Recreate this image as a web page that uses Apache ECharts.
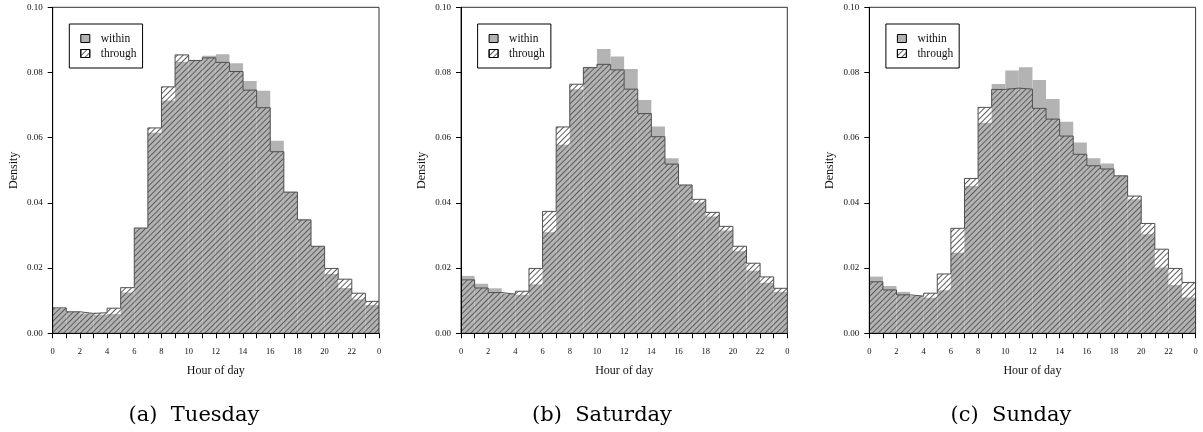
<!DOCTYPE html>
<html>
<head>
<meta charset="utf-8">
<script src="https://cdn.jsdelivr.net/npm/echarts@6/dist/echarts.min.js"></script>
<style>html,body{margin:0;padding:0;background:#fff}#c{width:1203px;height:432px}</style>
</head>
<body>
<div id="c"></div>
<script>
const hours = Array.from({length: 24}, (_, i) => String(i));
const yTicks = [0, 0.02, 0.04, 0.06, 0.08, 0.10];
const captions = ['(a)  Tuesday', '(b)  Saturday', '(c)  Sunday'];

const tueWithin  = [0.0076,0.0066,0.0061,0.0057,0.0059,0.0125,0.0323,0.0615,0.0714,0.0833,0.0837,0.0851,0.0856,0.0828,0.0774,0.0744,0.0591,0.0434,0.0348,0.0267,0.0182,0.0139,0.0104,0.0087];
const tueThrough = [0.0078,0.0066,0.0061,0.0063,0.0077,0.0140,0.0323,0.0630,0.0756,0.0854,0.0837,0.0845,0.0831,0.0803,0.0746,0.0692,0.0557,0.0433,0.0348,0.0267,0.0199,0.0166,0.0123,0.0098];

const satWithin  = [0.0176,0.0152,0.0138,0.0122,0.0118,0.0150,0.0310,0.0578,0.0749,0.0817,0.0872,0.0849,0.0811,0.0716,0.0634,0.0537,0.0455,0.0401,0.0358,0.0315,0.0252,0.0192,0.0155,0.0127];
const satThrough = [0.0164,0.0139,0.0125,0.0120,0.0129,0.0199,0.0374,0.0633,0.0764,0.0815,0.0825,0.0808,0.0749,0.0674,0.0603,0.0519,0.0455,0.0411,0.0371,0.0328,0.0267,0.0215,0.0173,0.0138];

const sunWithin  = [0.0174,0.0145,0.0127,0.0115,0.0109,0.0132,0.0247,0.0452,0.0646,0.0765,0.0806,0.0816,0.0777,0.0719,0.0649,0.0585,0.0537,0.0521,0.0483,0.0411,0.0304,0.0202,0.0148,0.0110];
const sunThrough = [0.0158,0.0133,0.0118,0.0114,0.0123,0.0182,0.0322,0.0475,0.0693,0.0748,0.0752,0.0749,0.0690,0.0657,0.0605,0.0549,0.0514,0.0504,0.0483,0.0421,0.0337,0.0258,0.0199,0.0156];

const panels = [
  {within: tueWithin, through: tueThrough, left: 52.7, cap: 194},
  {within: satWithin, through: satThrough, left: 461, cap: 602},
  {within: sunWithin, through: sunThrough, left: 869.3, cap: 1011}
];

const SERIF = 'Liberation Serif';
const GRID_TOP = 7.3, GRID_H = 326, GRID_W = 326.3;
const hatch = {
  symbol: 'rect', symbolSize: 1, color: '#5c5c5c',
  dashArrayX: [1, 0], dashArrayY: [1, 3], rotation: -Math.PI / 4
};

const grid = [], xAxis = [], yAxis = [], series = [], legend = [], graphic = [];
panels.forEach((p, i) => {
  grid.push({left: p.left, top: GRID_TOP, width: GRID_W, height: GRID_H, show: true,
    borderColor: '#333', borderWidth: 1, backgroundColor: 'transparent', z: 10});
  xAxis.push({type: 'category', gridIndex: i, data: hours, show: false, boundaryGap: true});
  xAxis.push({type: 'value', gridIndex: i, min: 0, max: 24, interval: 1, position: 'bottom', z: 12,
    name: 'Hour of day', nameLocation: 'middle', nameGap: 32,
    nameTextStyle: {fontFamily: SERIF, fontSize: 12, color: '#111'},
    axisLine: {show: true, lineStyle: {color: '#000', width: 1}},
    axisTick: {show: true, length: 5, inside: false, lineStyle: {color: '#000'}},
    axisLabel: {fontFamily: SERIF, fontSize: 8.5, color: '#111', margin: 14, showMinLabel: true, showMaxLabel: true,
      formatter: v => (v % 2 === 0 ? String(v % 24) : '')},
    splitLine: {show: false}});
  yAxis.push({type: 'value', gridIndex: i, min: 0, max: 0.1, interval: 0.02, z: 12,
    name: 'Density', nameLocation: 'middle', nameGap: 33,
    nameTextStyle: {fontFamily: SERIF, fontSize: 12, color: '#111'},
    axisLine: {show: true, lineStyle: {color: '#000', width: 1}},
    axisTick: {show: true, length: 5, inside: false, lineStyle: {color: '#000'}},
    axisLabel: {fontFamily: SERIF, fontSize: 9, color: '#111', margin: 10, formatter: v => v.toFixed(2)},
    splitLine: {show: false}});
  series.push({name: 'within', type: 'bar', xAxisIndex: 2 * i, yAxisIndex: i, data: p.within,
    barCategoryGap: 0, barGap: '-100%', itemStyle: {color: '#b3b3b3'}, z: 2, silent: true});
  series.push({name: 'through', type: 'bar', xAxisIndex: 2 * i, yAxisIndex: i, data: p.through,
    barCategoryGap: 0, barGap: '-100%', itemStyle: {color: 'rgba(0,0,0,0)', decal: hatch}, z: 3, silent: true});
  const step = p.through.map((v, h) => [h, v]);
  step.push([24, p.through[23]]);
  series.push({name: 'through-outline', type: 'line', xAxisIndex: 2 * i + 1, yAxisIndex: i, data: step,
    step: 'end', symbol: 'none', lineStyle: {color: '#505050', width: 1}, z: 4, silent: true});
  legend.push({data: ['within', 'through'], left: p.left + 16.6, top: 24, orient: 'vertical',
    borderColor: '#000', borderWidth: 1, padding: [8, 6, 8, 11], itemGap: 2,
    itemWidth: 9, itemHeight: 8, icon: 'rect', selectedMode: false,
    itemStyle: {borderColor: '#000', borderWidth: 1},
    textStyle: {fontFamily: SERIF, fontSize: 11.5, color: '#111', lineHeight: 13, padding: [0, 0, 0, 6]}});
  graphic.push({type: 'text', x: p.cap, y: 416, style: {text: captions[i], fontFamily: 'DejaVu Serif',
    fontSize: 21, fill: '#000', textAlign: 'center', textVerticalAlign: 'middle'}});
});

const chart = echarts.init(document.getElementById('c'), null, {renderer: 'canvas'});
chart.setOption({animation: false, backgroundColor: '#fff', grid, xAxis, yAxis, series, legend, graphic});
</script>
</body>
</html>
